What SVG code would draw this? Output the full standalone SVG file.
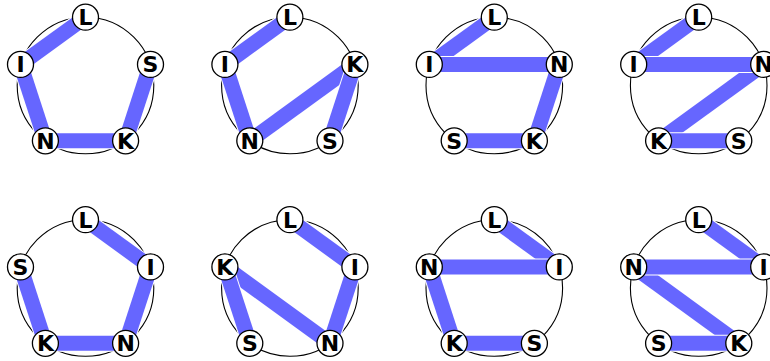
<svg xmlns="http://www.w3.org/2000/svg" width="770" height="361" viewBox="0 0 770 361">
<style>
.ring{fill:none;stroke:#000;stroke-width:1.1}
.bo{stroke:#fff;stroke-width:17;stroke-linecap:butt}
.bi{stroke:#6666ff;stroke-width:15;stroke-linecap:butt}
.nc{fill:#fff;stroke:#000;stroke-width:1.3}
.nt{font-family:"DejaVu Sans","Liberation Sans",sans-serif;font-weight:bold;font-size:22px;text-anchor:middle;fill:#000}
</style>
<rect width="770" height="361" fill="#fff"/>

<!-- Panel 1 -->
<g id="panel1" transform="translate(85.5,85.5)">
<circle class="ring" r="68.3"/>
<g id="p1-connectors">
<line class="bo" x1="0" y1="-68.3" x2="-65" y2="-21.1"/><line class="bi" x1="0" y1="-68.3" x2="-65" y2="-21.1"/>
<line class="bo" x1="-65" y1="-21.1" x2="-40.1" y2="55.3"/><line class="bi" x1="-65" y1="-21.1" x2="-40.1" y2="55.3"/>
<line class="bo" x1="40.1" y1="55.3" x2="65" y2="-21.1"/><line class="bi" x1="40.1" y1="55.3" x2="65" y2="-21.1"/>
<line class="bo" x1="-40.1" y1="55.3" x2="40.1" y2="55.3"/><line class="bi" x1="-40.1" y1="55.3" x2="40.1" y2="55.3"/>
</g>
<g id="p1-L"><circle class="nc" cx="0" cy="-68.3" r="13"/><text class="nt" x="0" y="-60.3">L</text></g>
<g id="p1-I"><circle class="nc" cx="-65" cy="-21.1" r="13"/><text class="nt" x="-65" y="-13.1">I</text></g>
<g id="p1-S"><circle class="nc" cx="65" cy="-21.1" r="13"/><text class="nt" x="65" y="-13.1">S</text></g>
<g id="p1-N"><circle class="nc" cx="-40.1" cy="55.3" r="13"/><text class="nt" x="-40.1" y="63.3">N</text></g>
<g id="p1-K"><circle class="nc" cx="40.1" cy="55.3" r="13"/><text class="nt" x="40.1" y="63.3">K</text></g>
</g>

<!-- Panel 2 -->
<g id="panel2" transform="translate(289.9,85.5)">
<circle class="ring" r="68.3"/>
<g id="p2-connectors">
<line class="bo" x1="0" y1="-68.3" x2="-65" y2="-21.1"/><line class="bi" x1="0" y1="-68.3" x2="-65" y2="-21.1"/>
<line class="bo" x1="-65" y1="-21.1" x2="-40.1" y2="55.3"/><line class="bi" x1="-65" y1="-21.1" x2="-40.1" y2="55.3"/>
<line class="bo" x1="-40.1" y1="55.3" x2="65" y2="-21.1"/><line class="bi" x1="-40.1" y1="55.3" x2="65" y2="-21.1"/>
<line class="bo" x1="65" y1="-21.1" x2="40.1" y2="55.3"/><line class="bi" x1="65" y1="-21.1" x2="40.1" y2="55.3"/>
</g>
<g id="p2-L"><circle class="nc" cx="0" cy="-68.3" r="13"/><text class="nt" x="0" y="-60.3">L</text></g>
<g id="p2-I"><circle class="nc" cx="-65" cy="-21.1" r="13"/><text class="nt" x="-65" y="-13.1">I</text></g>
<g id="p2-K"><circle class="nc" cx="65" cy="-21.1" r="13"/><text class="nt" x="65" y="-13.1">K</text></g>
<g id="p2-N"><circle class="nc" cx="-40.1" cy="55.3" r="13"/><text class="nt" x="-40.1" y="63.3">N</text></g>
<g id="p2-S"><circle class="nc" cx="40.1" cy="55.3" r="13"/><text class="nt" x="40.1" y="63.3">S</text></g>
</g>

<!-- Panel 3 -->
<g id="panel3" transform="translate(494.3,85.5)">
<circle class="ring" r="68.3"/>
<g id="p3-connectors">
<line class="bo" x1="0" y1="-68.3" x2="-65" y2="-21.1"/><line class="bi" x1="0" y1="-68.3" x2="-65" y2="-21.1"/>
<line class="bo" x1="65" y1="-21.1" x2="40.1" y2="55.3"/><line class="bi" x1="65" y1="-21.1" x2="40.1" y2="55.3"/>
<line class="bo" x1="-65" y1="-21.1" x2="65" y2="-21.1"/><line class="bi" x1="-65" y1="-21.1" x2="65" y2="-21.1"/>
<line class="bo" x1="40.1" y1="55.3" x2="-40.1" y2="55.3"/><line class="bi" x1="40.1" y1="55.3" x2="-40.1" y2="55.3"/>
</g>
<g id="p3-L"><circle class="nc" cx="0" cy="-68.3" r="13"/><text class="nt" x="0" y="-60.3">L</text></g>
<g id="p3-I"><circle class="nc" cx="-65" cy="-21.1" r="13"/><text class="nt" x="-65" y="-13.1">I</text></g>
<g id="p3-N"><circle class="nc" cx="65" cy="-21.1" r="13"/><text class="nt" x="65" y="-13.1">N</text></g>
<g id="p3-S"><circle class="nc" cx="-40.1" cy="55.3" r="13"/><text class="nt" x="-40.1" y="63.3">S</text></g>
<g id="p3-K"><circle class="nc" cx="40.1" cy="55.3" r="13"/><text class="nt" x="40.1" y="63.3">K</text></g>
</g>

<!-- Panel 4 -->
<g id="panel4" transform="translate(698.7,85.5)">
<circle class="ring" r="68.3"/>
<g id="p4-connectors">
<line class="bo" x1="0" y1="-68.3" x2="-65" y2="-21.1"/><line class="bi" x1="0" y1="-68.3" x2="-65" y2="-21.1"/>
<line class="bo" x1="65" y1="-21.1" x2="-40.1" y2="55.3"/><line class="bi" x1="65" y1="-21.1" x2="-40.1" y2="55.3"/>
<line class="bo" x1="-65" y1="-21.1" x2="65" y2="-21.1"/><line class="bi" x1="-65" y1="-21.1" x2="65" y2="-21.1"/>
<line class="bo" x1="-40.1" y1="55.3" x2="40.1" y2="55.3"/><line class="bi" x1="-40.1" y1="55.3" x2="40.1" y2="55.3"/>
</g>
<g id="p4-L"><circle class="nc" cx="0" cy="-68.3" r="13"/><text class="nt" x="0" y="-60.3">L</text></g>
<g id="p4-I"><circle class="nc" cx="-65" cy="-21.1" r="13"/><text class="nt" x="-65" y="-13.1">I</text></g>
<g id="p4-N"><circle class="nc" cx="65" cy="-21.1" r="13"/><text class="nt" x="65" y="-13.1">N</text></g>
<g id="p4-K"><circle class="nc" cx="-40.1" cy="55.3" r="13"/><text class="nt" x="-40.1" y="63.3">K</text></g>
<g id="p4-S"><circle class="nc" cx="40.1" cy="55.3" r="13"/><text class="nt" x="40.1" y="63.3">S</text></g>
</g>

<!-- Panel 5 -->
<g id="panel5" transform="translate(85.5,288)">
<circle class="ring" r="68.3"/>
<g id="p5-connectors">
<line class="bo" x1="0" y1="-68.3" x2="65" y2="-21.1"/><line class="bi" x1="0" y1="-68.3" x2="65" y2="-21.1"/>
<line class="bo" x1="65" y1="-21.1" x2="40.1" y2="55.3"/><line class="bi" x1="65" y1="-21.1" x2="40.1" y2="55.3"/>
<line class="bo" x1="-40.1" y1="55.3" x2="-65" y2="-21.1"/><line class="bi" x1="-40.1" y1="55.3" x2="-65" y2="-21.1"/>
<line class="bo" x1="40.1" y1="55.3" x2="-40.1" y2="55.3"/><line class="bi" x1="40.1" y1="55.3" x2="-40.1" y2="55.3"/>
</g>
<g id="p5-L"><circle class="nc" cx="0" cy="-68.3" r="13"/><text class="nt" x="0" y="-60.3">L</text></g>
<g id="p5-S"><circle class="nc" cx="-65" cy="-21.1" r="13"/><text class="nt" x="-65" y="-13.1">S</text></g>
<g id="p5-I"><circle class="nc" cx="65" cy="-21.1" r="13"/><text class="nt" x="65" y="-13.1">I</text></g>
<g id="p5-K"><circle class="nc" cx="-40.1" cy="55.3" r="13"/><text class="nt" x="-40.1" y="63.3">K</text></g>
<g id="p5-N"><circle class="nc" cx="40.1" cy="55.3" r="13"/><text class="nt" x="40.1" y="63.3">N</text></g>
</g>

<!-- Panel 6 -->
<g id="panel6" transform="translate(289.9,288)">
<circle class="ring" r="68.3"/>
<g id="p6-connectors">
<line class="bo" x1="0" y1="-68.3" x2="65" y2="-21.1"/><line class="bi" x1="0" y1="-68.3" x2="65" y2="-21.1"/>
<line class="bo" x1="65" y1="-21.1" x2="40.1" y2="55.3"/><line class="bi" x1="65" y1="-21.1" x2="40.1" y2="55.3"/>
<line class="bo" x1="40.1" y1="55.3" x2="-65" y2="-21.1"/><line class="bi" x1="40.1" y1="55.3" x2="-65" y2="-21.1"/>
<line class="bo" x1="-65" y1="-21.1" x2="-40.1" y2="55.3"/><line class="bi" x1="-65" y1="-21.1" x2="-40.1" y2="55.3"/>
</g>
<g id="p6-L"><circle class="nc" cx="0" cy="-68.3" r="13"/><text class="nt" x="0" y="-60.3">L</text></g>
<g id="p6-K"><circle class="nc" cx="-65" cy="-21.1" r="13"/><text class="nt" x="-65" y="-13.1">K</text></g>
<g id="p6-I"><circle class="nc" cx="65" cy="-21.1" r="13"/><text class="nt" x="65" y="-13.1">I</text></g>
<g id="p6-S"><circle class="nc" cx="-40.1" cy="55.3" r="13"/><text class="nt" x="-40.1" y="63.3">S</text></g>
<g id="p6-N"><circle class="nc" cx="40.1" cy="55.3" r="13"/><text class="nt" x="40.1" y="63.3">N</text></g>
</g>

<!-- Panel 7 -->
<g id="panel7" transform="translate(494.3,288)">
<circle class="ring" r="68.3"/>
<g id="p7-connectors">
<line class="bo" x1="0" y1="-68.3" x2="65" y2="-21.1"/><line class="bi" x1="0" y1="-68.3" x2="65" y2="-21.1"/>
<line class="bo" x1="-65" y1="-21.1" x2="-40.1" y2="55.3"/><line class="bi" x1="-65" y1="-21.1" x2="-40.1" y2="55.3"/>
<line class="bo" x1="65" y1="-21.1" x2="-65" y2="-21.1"/><line class="bi" x1="65" y1="-21.1" x2="-65" y2="-21.1"/>
<line class="bo" x1="-40.1" y1="55.3" x2="40.1" y2="55.3"/><line class="bi" x1="-40.1" y1="55.3" x2="40.1" y2="55.3"/>
</g>
<g id="p7-L"><circle class="nc" cx="0" cy="-68.3" r="13"/><text class="nt" x="0" y="-60.3">L</text></g>
<g id="p7-N"><circle class="nc" cx="-65" cy="-21.1" r="13"/><text class="nt" x="-65" y="-13.1">N</text></g>
<g id="p7-I"><circle class="nc" cx="65" cy="-21.1" r="13"/><text class="nt" x="65" y="-13.1">I</text></g>
<g id="p7-K"><circle class="nc" cx="-40.1" cy="55.3" r="13"/><text class="nt" x="-40.1" y="63.3">K</text></g>
<g id="p7-S"><circle class="nc" cx="40.1" cy="55.3" r="13"/><text class="nt" x="40.1" y="63.3">S</text></g>
</g>

<!-- Panel 8 -->
<g id="panel8" transform="translate(698.7,288)">
<circle class="ring" r="68.3"/>
<g id="p8-connectors">
<line class="bo" x1="0" y1="-68.3" x2="65" y2="-21.1"/><line class="bi" x1="0" y1="-68.3" x2="65" y2="-21.1"/>
<line class="bo" x1="-65" y1="-21.1" x2="40.1" y2="55.3"/><line class="bi" x1="-65" y1="-21.1" x2="40.1" y2="55.3"/>
<line class="bo" x1="65" y1="-21.1" x2="-65" y2="-21.1"/><line class="bi" x1="65" y1="-21.1" x2="-65" y2="-21.1"/>
<line class="bo" x1="40.1" y1="55.3" x2="-40.1" y2="55.3"/><line class="bi" x1="40.1" y1="55.3" x2="-40.1" y2="55.3"/>
</g>
<g id="p8-L"><circle class="nc" cx="0" cy="-68.3" r="13"/><text class="nt" x="0" y="-60.3">L</text></g>
<g id="p8-N"><circle class="nc" cx="-65" cy="-21.1" r="13"/><text class="nt" x="-65" y="-13.1">N</text></g>
<g id="p8-I"><circle class="nc" cx="65" cy="-21.1" r="13"/><text class="nt" x="65" y="-13.1">I</text></g>
<g id="p8-S"><circle class="nc" cx="-40.1" cy="55.3" r="13"/><text class="nt" x="-40.1" y="63.3">S</text></g>
<g id="p8-K"><circle class="nc" cx="40.1" cy="55.3" r="13"/><text class="nt" x="40.1" y="63.3">K</text></g>
</g>
</svg>
